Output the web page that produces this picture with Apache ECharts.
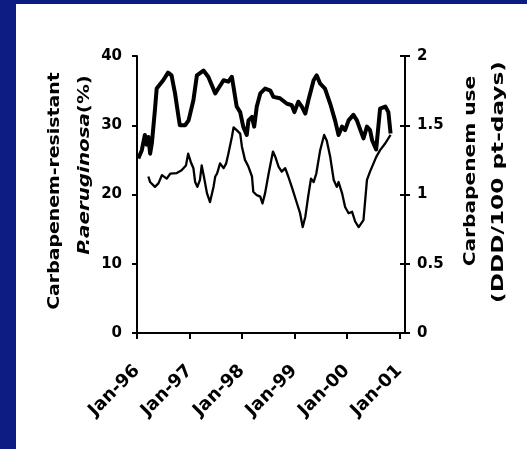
<!DOCTYPE html>
<html>
<head>
<meta charset="utf-8">
<script src="https://cdn.jsdelivr.net/npm/echarts@6/dist/echarts.min.js"></script>
<style>
  html, body { margin: 0; padding: 0; background: #ffffff; }
  #chart { width: 527px; height: 449px; }
</style>
</head>
<body>
<div id="chart"></div>
<script>
// ---- Data (months since Jan-96) ----
var xTickMonths = [0, 12, 24, 36, 48, 60];
var xTickLabels = ['Jan-96', 'Jan-97', 'Jan-98', 'Jan-99', 'Jan-00', 'Jan-01'];

// Carbapenem use (DDD/100 pt-days) - thick line, right axis
var useMonths = [0.3,1.1,1.8,2.2,2.6,3.0,3.4,4.1,4.5,6.0,7.1,7.9,8.7,9.5,9.8,11.0,11.8,12.9,13.7,15.2,16.3,17.9,18.6,19.8,20.9,21.7,22.8,23.6,24.3,25.1,25.5,26.3,26.8,27.4,28.2,29.3,30.5,31.2,32.7,34.3,35.4,36.0,36.9,37.7,38.5,39.2,40.4,41.1,41.9,43.0,44.2,45.3,46.1,46.9,47.6,48.4,49.5,50.3,51.1,51.8,52.6,53.3,53.8,54.7,55.6,56.8,57.5,58.0];
var useValues = [1.26,1.32,1.43,1.36,1.415,1.295,1.37,1.61,1.765,1.825,1.88,1.86,1.73,1.56,1.5,1.5,1.535,1.68,1.86,1.895,1.85,1.73,1.765,1.825,1.815,1.85,1.635,1.595,1.49,1.43,1.535,1.56,1.49,1.635,1.73,1.765,1.75,1.705,1.695,1.655,1.645,1.595,1.67,1.635,1.585,1.68,1.825,1.86,1.8,1.765,1.655,1.535,1.43,1.49,1.465,1.535,1.575,1.535,1.465,1.405,1.49,1.465,1.39,1.325,1.62,1.635,1.595,1.44];

// Carbapenem-resistant P.aeruginosa (%) - thin line, left axis
var resMonths = [2.6,3.0,4.1,4.9,5.7,6.0,6.8,7.6,9.1,10.2,11.2,11.7,12.3,12.9,13.3,13.8,14.4,14.8,15.3,16.0,16.7,17.5,17.9,18.3,19.0,19.8,20.4,20.9,21.7,22.1,22.8,23.6,24.0,24.7,25.5,26.3,26.6,27.4,28.2,28.7,29.3,30.1,31.1,31.6,32.4,33.1,33.9,34.6,35.4,36.6,37.3,37.9,38.5,39.2,39.8,40.4,41.0,41.9,42.8,43.4,44.2,45.0,45.7,46.1,46.9,47.6,48.4,49.2,49.9,50.7,51.8,52.6,53.3,54.1,54.7,55.6,56.8,58.0];
var resValues = [22.6,21.8,21.1,21.6,22.8,22.6,22.3,23.0,23.1,23.5,24.2,25.9,24.7,23.8,21.8,21.1,22.1,24.2,22.6,20.2,18.9,21.1,22.6,23.0,24.5,23.8,24.5,25.9,28.3,29.7,29.3,28.8,26.9,25.0,24.0,22.6,20.4,19.9,19.7,18.7,20.2,23.0,26.2,25.5,24.0,23.3,23.8,22.6,21.1,18.7,17.3,15.3,16.8,19.9,22.3,21.8,23.0,26.4,28.6,27.8,25.4,22.1,21.1,21.8,20.2,18.2,17.3,17.5,16.1,15.3,16.3,22.1,23.3,24.5,25.4,26.4,27.4,28.6];

var leftTitle1 = 'Carbapenem-resistant';
var leftTitle2 = '{i|P.aeruginosa}(%)';
var rightTitle1 = 'Carbapenem use';
var rightTitle2 = '(DDD/100 pt-days)';

function pairs(xs, ys) { return xs.map(function (x, i) { return [x, ys[i]]; }); }

var FONT = "'DejaVu Sans', sans-serif";
var NAVY = '#0c1c82';

var chart = echarts.init(document.getElementById('chart'), null, { renderer: 'canvas' });

function titleText(text, cx, cy, sx, rich) {
  return {
    type: 'text',
    x: cx, y: cy,
    rotation: Math.PI / 2,
    scaleX: sx, scaleY: 1,
    silent: true,
    style: {
      text: text,
      x: 0, y: 0,
      fontSize: 16, fontWeight: 'bold', fontFamily: FONT,
      fill: '#000',
      align: 'center', verticalAlign: 'middle',
      textAlign: 'center', textVerticalAlign: 'middle',
      rich: rich || {}
    }
  };
}

var option = {
  animation: false,
  backgroundColor: '#ffffff',
  grid: { left: 137, right: 122, top: 56, bottom: 116, containLabel: false },
  xAxis: {
    type: 'value', min: 0, max: 61.3,
    axisLine: { show: true, lineStyle: { color: '#000', width: 2 } },
    axisTick: { show: true, customValues: xTickMonths, length: 6, lineStyle: { color: '#000', width: 2 } },
    axisLabel: {
      customValues: xTickMonths,
      formatter: function (v) { var i = xTickMonths.indexOf(v); return i >= 0 ? xTickLabels[i] : ''; },
      rotate: 45, margin: 35,
      fontSize: 18, fontWeight: 'bold', fontFamily: FONT, color: '#000'
    },
    splitLine: { show: false }
  },
  yAxis: [
    {
      type: 'value', min: 0, max: 40, interval: 10, position: 'left',
      axisLine: { show: true, lineStyle: { color: '#000', width: 2 } },
      axisTick: { show: true, length: 5, lineStyle: { color: '#000', width: 2 } },
      axisLabel: { margin: 15, fontSize: 15, fontWeight: 'bold', fontFamily: FONT, color: '#000' },
      splitLine: { show: false }
    },
    {
      type: 'value', min: 0, max: 2, interval: 0.5, position: 'right',
      axisLine: { show: true, lineStyle: { color: '#000', width: 2 } },
      axisTick: { show: true, length: 5, lineStyle: { color: '#000', width: 2 } },
      axisLabel: { margin: 12, fontSize: 15, fontWeight: 'bold', fontFamily: FONT, color: '#000' },
      splitLine: { show: false }
    },
    {
      type: 'value', min: 0, max: 2, interval: 0.5, position: 'right',
      axisLine: { show: false },
      axisTick: { show: true, inside: true, length: 5, lineStyle: { color: '#000', width: 2 } },
      axisLabel: { show: false },
      splitLine: { show: false }
    }
  ],
  series: [
    {
      name: 'Carbapenem use', type: 'line', yAxisIndex: 1,
      data: pairs(useMonths, useValues),
      showSymbol: false, symbol: 'none',
      lineStyle: { color: '#000', width: 4, join: 'round' },
      z: 3
    },
    {
      name: 'Carbapenem-resistant P.aeruginosa', type: 'line', yAxisIndex: 0,
      data: pairs(resMonths, resValues),
      showSymbol: false, symbol: 'none',
      lineStyle: { color: '#000', width: 2.3, join: 'round' },
      z: 2
    }
  ],
  graphic: {
    elements: [
      { type: 'rect', left: 0, top: 0, shape: { width: 16, height: 449 }, style: { fill: NAVY }, silent: true },
      { type: 'rect', left: 0, top: 0, shape: { width: 527, height: 4 }, style: { fill: NAVY }, silent: true },
      titleText(leftTitle1, 55, 191, 1.18),
      titleText(leftTitle2, 85, 165, 1.24, { i: { fontStyle: 'italic', fontWeight: 'bold', fontSize: 16, fontFamily: FONT } }),
      titleText(rightTitle1, 471, 171, 1.26),
      titleText(rightTitle2, 499, 182, 1.45)
    ]
  }
};

chart.setOption(option);
</script>
</body>
</html>
